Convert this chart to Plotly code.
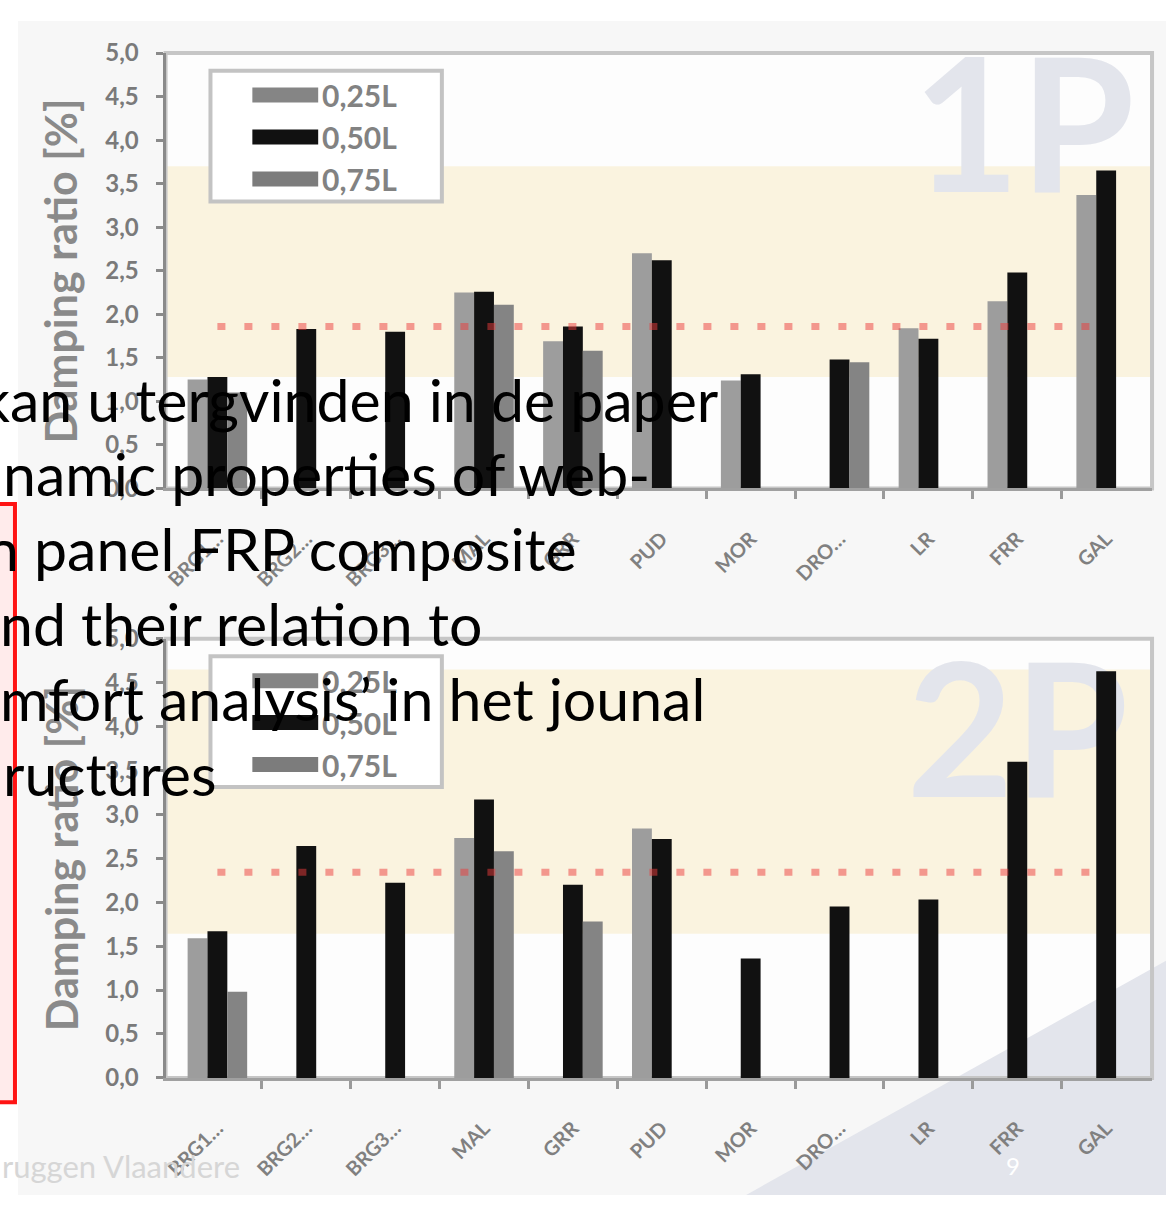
import plotly.graph_objects as go

# ---- data -------------------------------------------------------------
categories = ["BRG1…", "BRG2…", "BRG3…", "MAL", "GRR", "PUD",
              "MOR", "DRO…", "LR", "FRR", "GAL"]
series_names = ["0,25L", "0,50L", "0,75L"]

# damping ratio [%], one-panel (1P) bridges
p1_025 = [1.25, None, None, 2.25, 1.69, 2.70, 1.24, None, 1.84, 2.15, 3.37]
p1_050 = [1.28, 1.83, 1.80, 2.26, 1.86, 2.62, 1.31, 1.48, 1.72, 2.48, 3.65]
p1_075 = [1.10, None, None, 2.11, 1.58, None, None, 1.45, None, None, None]

# damping ratio [%], two-panel (2P) bridges
p2_025 = [1.59, None, None, 2.73, None, 2.84, None, None, None, None, None]
p2_050 = [1.67, 2.64, 2.22, 3.17, 2.20, 2.72, 1.36, 1.95, 2.03, 3.60, 4.63]
p2_075 = [0.98, None, None, 2.58, 1.78, None, None, None, None, None, None]

p1_band = (1.28, 3.70)   # shaded range
p1_limit = 1.86          # dotted reference level
p2_band = (1.64, 4.65)
p2_limit = 2.34

y_ticks = [0.0, 0.5, 1.0, 1.5, 2.0, 2.5, 3.0, 3.5, 4.0, 4.5, 5.0]
y_tick_text = ["0,0", "0,5", "1,0", "1,5", "2,0", "2,5", "3,0", "3,5", "4,0", "4,5", "5,0"]

slide_lines = [
    "kan u tergvinden in de paper",
    "namic properties of web-",
    "n panel FRP composite",
    "nd their relation to",
    "mfort analysis’ in het jounal",
    "ructures",
]

# ---- page geometry ----------------------------------------------------
W, H = 1166, 1208


def px(x):
    return x / W


def py(y):
    return 1 - y / H


X_LEFT, X_RIGHT = 163, 1152
PANELS = [
    dict(top=38, bottom=484, xa="x", ya="y", ya_bars="y3", band=p1_band,
         limit=p1_limit, series=[p1_025, p1_050, p1_075], mark="1P",
         mark_pos=(9.07, 3.93)),
    dict(top=638, bottom=1088, xa="x2", ya="y2", ya_bars="y4", band=p2_band,
         limit=p2_limit, series=[p2_025, p2_050, p2_075], mark="2P",
         mark_pos=(9.0, 3.72)),
]

bar_colors = ["#9d9d9d", "#111111", "#848484"]
legend_colors = ["#858585", "#111111", "#7c7c7c"]
xpos = list(range(len(categories)))

fig = go.Figure()

# watermark labels in the base subplots (under the bars, over the bands)
for p in PANELS:
    fig.add_trace(go.Scatter(
        x=[p["mark_pos"][0]], y=[p["mark_pos"][1]], mode="text", text=[p["mark"]],
        textfont=dict(family="Lato", size=185, color="#E3E5EC", weight="bold"),
        xaxis=p["xa"], yaxis=p["ya"], showlegend=False, hoverinfo="skip",
        cliponaxis=False))

# grouped bars in overlaid subplots
for p in PANELS:
    for name, vals, col in zip(series_names, p["series"], bar_colors):
        fig.add_trace(go.Bar(
            x=xpos, y=vals, name=name, marker=dict(color=col, line=dict(width=0)),
            xaxis=p["xa"], yaxis=p["ya_bars"], showlegend=False))

axis_font = dict(family="Lato", size=24, color="#7a7a7a", weight="bold")
shapes = []
annotations = []

# slide backdrop behind the chart picture
shapes.append(dict(type="rect", xref="paper", yref="paper", x0=px(15), x1=1,
                   y0=0, y1=py(5), fillcolor="#F7F7F7", line=dict(width=0),
                   layer="below"))

layout_axes = {}
for i, p in enumerate(PANELS):
    xkey = "xaxis" if i == 0 else "xaxis2"
    ykey = "yaxis" if i == 0 else "yaxis2"
    ybkey = "yaxis3" if i == 0 else "yaxis4"
    layout_axes[xkey] = dict(
        domain=[px(X_LEFT), px(X_RIGHT)], range=[-0.583, 10.516], anchor=p["ya"],
        tickmode="array", tickvals=xpos, ticktext=categories, tickangle=-45,
        ticks="", ticklabelstandoff=28,
        tickfont=dict(family="Lato", size=20, color="#808080", weight="bold"),
        showline=True, linecolor="#a0a0a0", linewidth=3, showgrid=False,
        zeroline=False,
        minor=dict(tickmode="array", tickvals=[k + 0.5 for k in range(10)],
                   ticks="outside", ticklen=8, tickwidth=3, tickcolor="#9a9a9a",
                   showgrid=False))
    layout_axes[ykey] = dict(
        domain=[py(p["bottom"]), py(p["top"])], range=[0, 5], anchor=p["xa"],
        tickmode="array", tickvals=y_ticks, ticktext=y_tick_text,
        ticks="outside", ticklen=7, tickwidth=3, tickcolor="#8a8a8a",
        ticklabelstandoff=12, tickfont=axis_font, showline=True,
        linecolor="#8a8a8a", linewidth=3, showgrid=False, zeroline=False)
    layout_axes[ybkey] = dict(overlaying=p["ya"], range=[0, 5], anchor=p["xa"],
                              visible=False)

    # white plot area (paper layer, so the corner triangle can sit on top)
    shapes.append(dict(type="rect", xref="paper", yref="paper",
                       x0=px(X_LEFT), x1=px(X_RIGHT), y0=py(p["bottom"]),
                       y1=py(p["top"]), fillcolor="#FDFDFD", line=dict(width=0),
                       layer="below"))

# decorative corner triangle of the slide
shapes.append(dict(type="path", xref="paper", yref="paper",
                   path=f"M {px(745)},0 L 1,{py(968)} L 1,0 Z",
                   fillcolor="#E3E5EC", line=dict(width=0), layer="below"))

for i, p in enumerate(PANELS):
    xd = p["xa"] + " domain"
    yd = p["ya"] + " domain"
    # shaded range
    shapes.append(dict(type="rect", xref=xd, yref=p["ya"], x0=0, x1=1,
                       y0=p["band"][0], y1=p["band"][1], fillcolor="#FAF3DF",
                       line=dict(width=0), layer="below"))
    # plot frame
    shapes.append(dict(type="rect", xref=xd, yref=yd, x0=0, x1=1, y0=0, y1=1,
                       line=dict(color="#C6C6C6", width=4), layer="below"))
    # dotted reference level
    shapes.append(dict(type="line", xref=p["xa"], yref=p["ya"], x0=0,
                       x1=len(categories) - 1, y0=p["limit"], y1=p["limit"],
                       line=dict(color="rgba(235,60,60,0.5)", width=7,
                                 dash="8px,19px"), layer="above"))
    # legend box
    box_top = p["top"] + 18
    shapes.append(dict(type="rect", xref="paper", yref="paper", x0=px(208),
                       x1=px(440), y0=py(box_top + 134), y1=py(box_top),
                       fillcolor="#FFFFFF", line=dict(color="#C3C3C3", width=4),
                       layer="above"))
    for k, (name, col) in enumerate(zip(series_names, legend_colors)):
        ry = box_top + 25 + 43 * k
        shapes.append(dict(type="line", xref="paper", yref="paper", x0=px(250),
                           x1=px(316), y0=py(ry), y1=py(ry),
                           line=dict(color=col, width=15), layer="above"))
        annotations.append(dict(xref="paper", yref="paper", x=px(318), y=py(ry),
                                xanchor="left", yanchor="middle", showarrow=False,
                                text=name,
                                font=dict(family="Lato", size=30, color="#828282",
                                          weight="bold")))
    # y-axis title
    annotations.append(dict(xref="paper", yref="paper", x=px(58),
                            y=py((p["top"] + p["bottom"]) / 2), textangle=-90,
                            xanchor="center", yanchor="middle",
                            showarrow=False, text="Damping ratio [%]",
                            font=dict(family="Lato", size=43, color="#8a8a8a",
                                      weight="bold")))

# red frame edge of the slide's text box
shapes.append(dict(type="rect", xref="paper", yref="paper", x0=px(-30), x1=px(12),
                   y0=py(1113), y1=py(500), fillcolor="rgba(255,60,60,0.10)",
                   line=dict(color="#FF1414", width=4), layer="above"))

# slide body text
line_y = [393, 469, 546, 622, 699, 776]
line_x = [-25, -2, -19, -5, -5, -2]
for txt, yy, xx in zip(slide_lines, line_y, line_x):
    annotations.append(dict(xref="paper", yref="paper", x=px(xx), y=py(yy),
                            xanchor="left", yanchor="middle", showarrow=False,
                            text=txt, font=dict(family="Lato", size=59,
                                                color="#000000")))

# footer
annotations.append(dict(xref="paper", yref="paper", x=px(-3), y=py(1178),
                        xanchor="left", yanchor="middle", showarrow=False,
                        text="ruggen Vlaandere",
                        font=dict(family="Lato", size=31, color="#D6D6D6")))
annotations.append(dict(xref="paper", yref="paper", x=px(1013), y=py(1178),
                        xanchor="center", yanchor="middle", showarrow=False,
                        text="9", font=dict(family="Lato", size=24, color="#FFFFFF")))

fig.update_layout(
    width=W, height=H, margin=dict(l=0, r=0, t=0, b=0),
    paper_bgcolor="#FFFFFF", plot_bgcolor="rgba(0,0,0,0)",
    barmode="group", bargap=0.33, bargroupgap=0,
    showlegend=False, shapes=shapes, annotations=annotations,
    **layout_axes)

fig.write_html("out.html")
